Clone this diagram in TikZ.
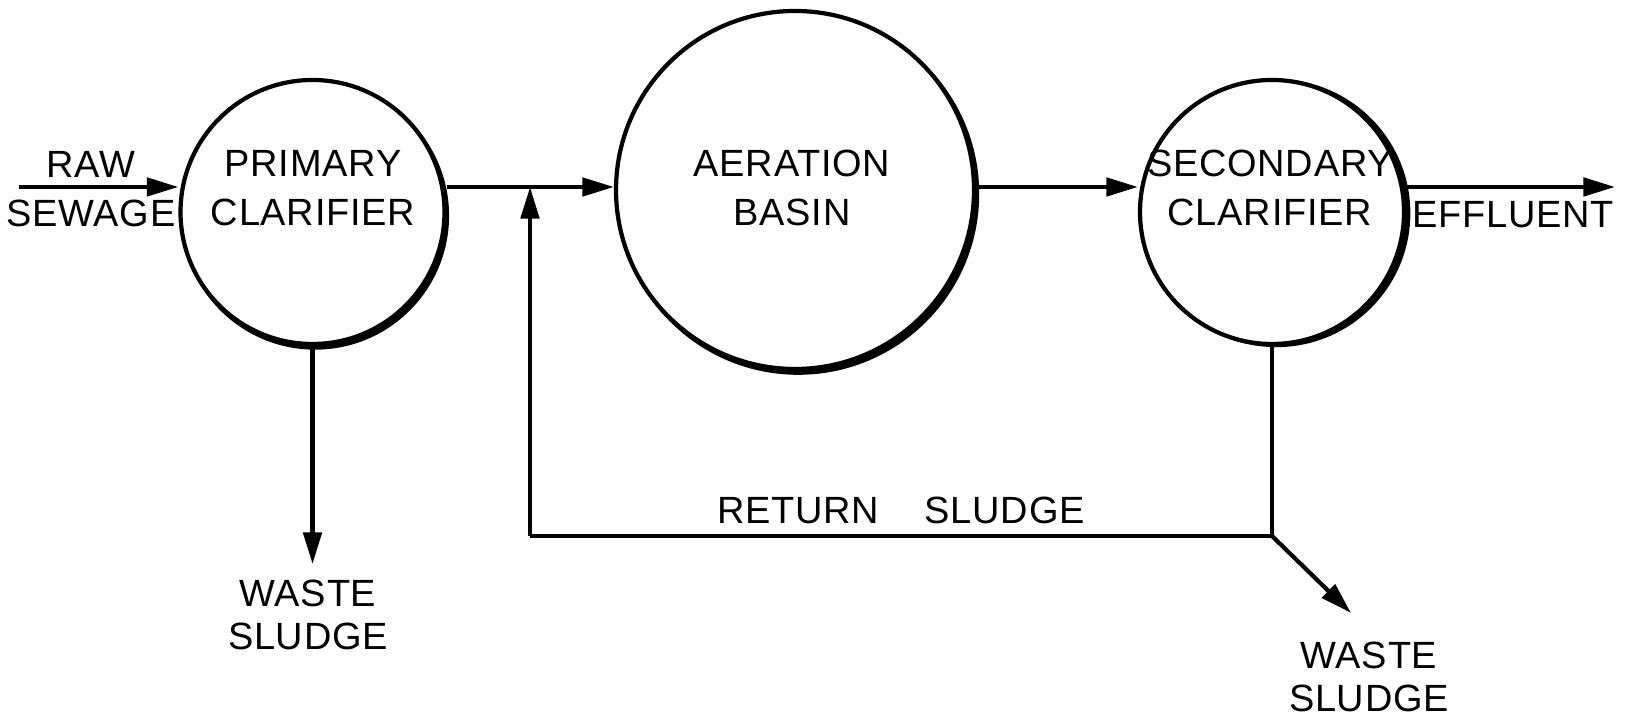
\documentclass[tikz,border=0pt]{standalone}
\usepackage{fontspec}
\setmainfont{Liberation Sans}[LetterSpace=2]
\usetikzlibrary{arrows.meta,backgrounds}
\tikzset{
  tank/.style={circle, draw, fill=white, line width=1.2pt, inner sep=0pt},
  tankshade/.style={fill=black},
  pipe/.style={line width=1.2pt},
  flow/.style={pipe, -{Triangle[length=9pt,width=5.2pt]}},
  lbl/.style={align=center, inner sep=0pt, font=\fontsize{10.8}{14}\selectfont},
  wastelbl/.style={lbl, font=\fontsize{10.8}{12.2}\selectfont},
}
\begin{document}
\begin{tikzpicture}
\useasboundingbox (0,0) rectangle (16.29,7.23);

\node [tank, minimum size=2.64cm] (primary) at (3.125,5.11) {};
\node [tank, minimum size=3.58cm] (aeration) at (7.95,5.33) {};
\node [tank, minimum size=2.64cm] (secondary) at (12.72,5.11) {};
% heavier lower rims
\begin{scope}[on background layer]
  \fill[tankshade] ([shift={(-55:0.045)}]primary.center) circle[radius=1.34];
  \fill[tankshade] ([shift={(-50:0.05)}]aeration.center) circle[radius=1.81];
  \fill[tankshade] ([shift={(-15:0.045)}]secondary.center) circle[radius=1.34];
\end{scope}

\node [lbl] (primarytxt) at (3.13,5.345) {PRIMARY\\CLARIFIER};
\node [lbl] (aerationtxt) at (7.92,5.35) {AERATION\\BASIN};
\node [lbl] (secondarytxt) at (12.70,5.35) {SECONDARY\\CLARIFIER};
\node [lbl] (rawtxt) at (0.91,5.34) {RAW\\SEWAGE};
\node [lbl] (effluenttxt) at (15.13,5.08) {EFFLUENT};
\node [lbl] (returntxt) at (9.01,2.13) {RETURN\hspace{1.2em}SLUDGE};
\node [wastelbl] (waste1txt) at (3.08,1.08) {WASTE\\SLUDGE};
\node [wastelbl] (waste2txt) at (13.69,0.46) {WASTE\\SLUDGE};

\coordinate (rawin) at (0.19,5.36);
\coordinate (outlet) at (16.15,5.36);
\coordinate (mix) at (5.30,5.36);
\coordinate (retcorner) at (5.30,1.87);
\coordinate (split) at (secondary.south |- retcorner);
\coordinate (waste1) at (3.125,1.59);
\coordinate (waste2) at (13.51,1.10);

\draw[flow] (rawin) -- (rawin -| primary.west);
\draw[pipe] (primary.east |- mix) -- (mix);
\draw[flow] (mix) -- (mix -| aeration.west);
\draw[flow] (aeration.east |- mix) -- (mix -| secondary.west);
\draw[flow] (secondary.east |- mix) -- (outlet);
\draw[flow] (primary.south) -- (waste1);
\draw[pipe] (secondary.south) -- (split) -- (retcorner);
\draw[flow] (retcorner) -- (mix);
\draw[flow] (split) -- (waste2);

\end{tikzpicture}
\end{document}
